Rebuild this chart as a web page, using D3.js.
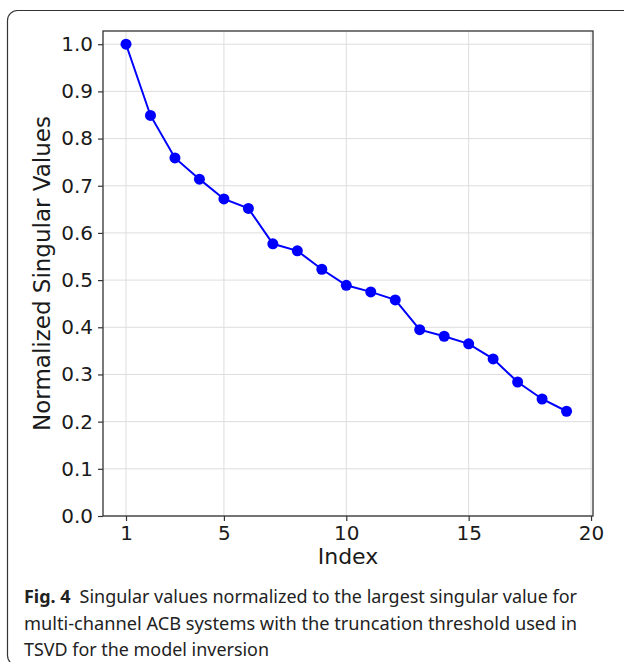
<!DOCTYPE html>
<html>
<head>
<meta charset="utf-8">
<script src="https://cdn.jsdelivr.net/npm/d3@7"></script>
<style>
  body { margin: 0; background: #fff; }
  svg { display: block; }
</style>
</head>
<body>
<svg width="624" height="662"></svg>
<script>
// singular value index and normalized values
var indices = [1,2,3,4,5,6,7,8,9,10,11,12,13,14,15,16,17,18,19];
var values = [1.0,0.849,0.759,0.714,0.672,0.652,0.577,0.562,0.523,0.489,0.475,0.458,0.395,0.381,0.365,0.333,0.284,0.248,0.222];
var xTicks = [1,5,10,15,20];
var yTicks = [0,0.1,0.2,0.3,0.4,0.5,0.6,0.7,0.8,0.9,1.0];
var captionLines = [
  "Singular values normalized to the largest singular value for",
  "multi-channel ACB systems with the truncation threshold used in",
  "TSVD for the model inversion"
];

var svg = d3.select('svg');
var plotLeft = 103, plotRight = 593, plotTop = 31, plotBottom = 516;

// outer figure frame, cut off on the right and bottom
svg.append('rect')
  .attr('x', 7.5).attr('y', 10.5)
  .attr('width', 660).attr('height', 655)
  .attr('rx', 10).attr('ry', 10)
  .style('fill', 'none').style('stroke', '#333').style('stroke-width', 1.2);

var x = d3.scaleLinear().domain([0.06, 20.08]).range([plotLeft, plotRight]);
var y = d3.scaleLinear().domain([0, 1.028]).range([plotBottom, plotTop]);

// grid
svg.append('g').selectAll('line').data(xTicks).enter().append('line')
  .attr('x1', function(d){ return x(d); }).attr('x2', function(d){ return x(d); })
  .attr('y1', plotTop).attr('y2', plotBottom)
  .style('stroke', '#dddddd').style('stroke-width', 1);
svg.append('g').selectAll('line').data(yTicks).enter().append('line')
  .attr('x1', plotLeft).attr('x2', plotRight)
  .attr('y1', function(d){ return y(d); }).attr('y2', function(d){ return y(d); })
  .style('stroke', '#dddddd').style('stroke-width', 1);

// axes
var xAxis = svg.append('g')
  .attr('transform', 'translate(0,' + plotBottom + ')')
  .call(d3.axisBottom(x).tickValues(xTicks).tickSize(5).tickPadding(5).tickFormat(d3.format('d')));
var yAxis = svg.append('g')
  .attr('transform', 'translate(' + plotLeft + ',0)')
  .call(d3.axisLeft(y).tickValues(yTicks).tickSize(5).tickPadding(5).tickFormat(d3.format('.1f')));

[xAxis, yAxis].forEach(function(a){
  a.select('.domain').remove();
  a.selectAll('line').style('stroke', '#333').style('stroke-width', 1.2);
  a.selectAll('text')
    .style('font-family', 'DejaVu Sans').style('font-size', '20px').style('fill', '#1a1a1a');
});

// box spines
svg.append('rect')
  .attr('x', plotLeft).attr('y', plotTop)
  .attr('width', plotRight - plotLeft).attr('height', plotBottom - plotTop)
  .style('fill', 'none').style('stroke', '#333').style('stroke-width', 1.3);

// series
var line = d3.line()
  .x(function(d, i){ return x(indices[i]); })
  .y(function(d){ return y(d); });

svg.append('path')
  .datum(values)
  .attr('d', line)
  .style('fill', 'none').style('stroke', '#0000ff').style('stroke-width', 2);

svg.append('g').selectAll('circle').data(values).enter().append('circle')
  .attr('cx', function(d, i){ return x(indices[i]); })
  .attr('cy', function(d){ return y(d); })
  .attr('r', 5.5)
  .style('fill', '#0000ff');

// axis labels
svg.append('text')
  .attr('x', (plotLeft + plotRight) / 2).attr('y', 564)
  .attr('text-anchor', 'middle')
  .style('font-family', 'DejaVu Sans').style('font-size', '22px').style('fill', '#1a1a1a')
  .text('Index');

svg.append('text')
  .attr('transform', 'translate(50,' + ((plotTop + plotBottom) / 2) + ') rotate(-90)')
  .attr('text-anchor', 'middle')
  .style('font-family', 'DejaVu Sans').style('font-size', '23px').style('fill', '#1a1a1a')
  .text('Normalized Singular Values');

// caption
var cap = svg.append('g').style('font-family', 'Noto Sans').style('font-size', '18.5px').style('fill', '#222');
var first = cap.append('text').attr('x', 24).attr('y', 603)
  .attr('textLength', 553).attr('lengthAdjust', 'spacingAndGlyphs');
first.append('tspan').style('font-weight', 'bold').text('Fig. 4');
first.append('tspan').text('\u2002' + captionLines[0]);
cap.append('text').attr('x', 24).attr('y', 630)
  .attr('textLength', 553).attr('lengthAdjust', 'spacingAndGlyphs')
  .text(captionLines[1]);
cap.append('text').attr('x', 24).attr('y', 656)
  .attr('textLength', 245).attr('lengthAdjust', 'spacingAndGlyphs')
  .text(captionLines[2]);
</script>
</body>
</html>
